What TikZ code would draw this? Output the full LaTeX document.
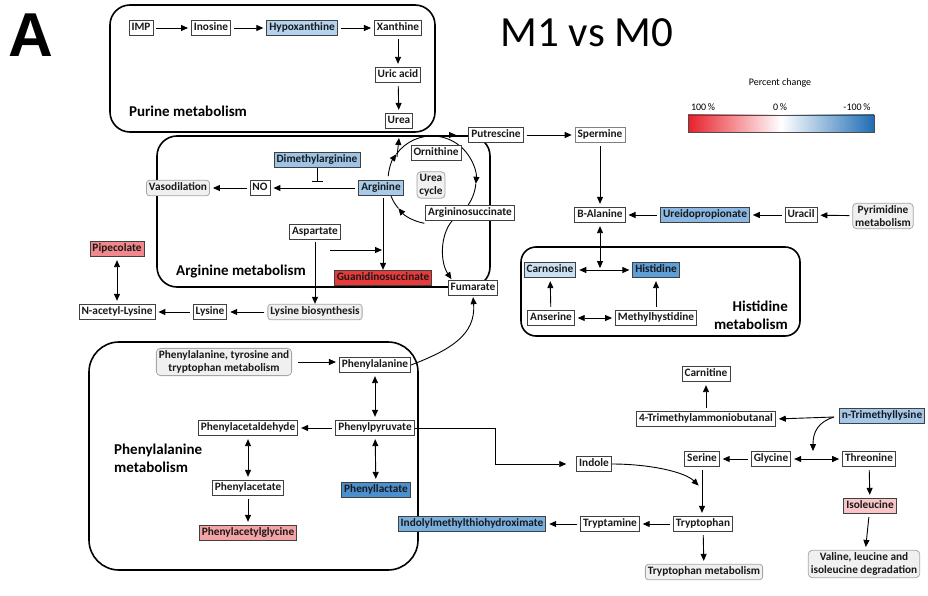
\documentclass[tikz,border=0pt]{standalone}
\usepackage{fontspec}
\setmainfont{Carlito}
\newfontfamily\arialfont{Liberation Sans}
\usetikzlibrary{arrows.meta,backgrounds}
\definecolor{cHyp}{HTML}{B4D3EE}
\definecolor{cDma}{HTML}{9DC3E6}
\definecolor{cArg}{HTML}{A8CBEA}
\definecolor{cUre}{HTML}{8CB8E4}
\definecolor{cCar}{HTML}{C9E1F3}
\definecolor{cHis}{HTML}{5D9FD8}
\definecolor{cPhl}{HTML}{4A90D0}
\definecolor{cImt}{HTML}{7AB0E0}
\definecolor{cTml}{HTML}{A3C8EA}
\definecolor{cGua}{HTML}{E83A3A}
\definecolor{cPip}{HTML}{F0888C}
\definecolor{cPag}{HTML}{F4A3A6}
\definecolor{cIle}{HTML}{F8C6C8}
\definecolor{lRed}{HTML}{E8202A}
\definecolor{lBlue}{HTML}{1F6DB4}
\newcommand\nodefont{\bfseries\fontsize{11.3}{12.5}\selectfont}
\newcommand\labfont{\bfseries\fontsize{15}{18}\selectfont}
\begin{document}
\begin{tikzpicture}[x=1pt,y=-1pt,
  base/.style={line width=0.8pt, font=\nodefont, inner xsep=2.5pt, text=black!90},
  met/.style={base, draw=black!75, fill=white, inner ysep=0pt, minimum height=15.5pt, text height=8pt, text depth=2.4pt},
  grp/.style={met, rounded corners=3pt, draw=black!35, fill=black!6},
  grpm/.style={base, rounded corners=4pt, draw=black!35, fill=black!6, align=center, inner ysep=2.5pt},
  sect/.style={draw=black, line width=1.6pt, rounded corners=#1},
  sect/.default=20pt,
  tip/.style={-{Triangle[length=7pt,width=6pt]}, line width=0.9pt},
  plain/.style={line width=0.9pt},
  arr/.style={tip, shorten >=3pt, shorten <=3pt},
  darr/.style={{Triangle[length=7pt,width=6pt]}-{Triangle[length=7pt,width=6pt]}, line width=0.9pt, shorten >=3pt, shorten <=3pt},
  lbl/.style={font=\labfont, inner sep=0pt}
]
\useasboundingbox (0,0) rectangle (928,596);

% title and legend
\node[font=\arialfont\bfseries\fontsize{62}{62}\selectfont, inner sep=0pt] (A) at (31,35) {A};
\node[font=\fontsize{43}{45}\selectfont, inner sep=0pt] (title) at (587,33) {M1 vs M0};
\node[font=\fontsize{10}{12}\selectfont] (pc) at (780,83) {Percent change};
\node[font=\fontsize{10}{12}\selectfont] (l100) at (703,107) {100\,\%};
\node[font=\fontsize{10}{12}\selectfont] (l0) at (780,107) {0\,\%};
\node[font=\fontsize{10}{12}\selectfont] (lm100) at (857,107) {-100\,\%};
\shade[left color=lRed, right color=lBlue, middle color=white] (688,115) rectangle (874,132);
\draw[black!70, line width=0.8pt] (688,115) rectangle (874,132);

% purine
\node[met] (imp) at (141,28) {IMP};
\node[met] (ino) at (211,28) {Inosine};
\node[met, fill=cHyp] (hyp) at (302,28) {Hypoxanthine};
\node[met] (xan) at (398,28) {Xanthine};
\node[met] (uric) at (398,75) {Uric acid};
\node[met] (urea) at (399,121) {Urea};
\node[lbl] (purlbl) at (188,111) {Purine metabolism};

% arginine
\node[met] (orn) at (436,153) {Ornithine};
\node[grpm] (ucyc) at (431,185) {Urea\\cycle};
\node[met] (asuc) at (470,213) {Argininosuccinate};
\node[met, fill=cArg] (arg) at (381,188) {Arginine};
\node[met, fill=cDma] (dma) at (317,160) {Dimethylarginine};
\node[met] (no) at (260,188) {NO};
\node[grp] (vaso) at (178,188) {Vasodilation};
\node[met] (asp) at (315,232) {Aspartate};
\node[met, fill=cGua] (guan) at (383,278) {Guanidinosuccinate};
\node[met] (fum) at (473,288) {Fumarate};
\node[lbl] (arglbl) at (241,272) {Arginine metabolism};

\node[met] (put) at (496,135) {Putrescine};
\node[met, draw=black!50] (spe) at (600,135) {Spermine};
\node[met] (bala) at (600,215) {B-Alanine};
\node[met, fill=cUre] (ureido) at (705,215) {Ureidopropionate};
\node[met] (uracil) at (801,215) {Uracil};
\node[grpm] (pyr) at (883,216) {Pyrimidine\\metabolism};

% lysine
\node[met, fill=cPip] (pip) at (117,249) {Pipecolate};
\node[met] (nal) at (117,312) {N-acetyl-Lysine};
\node[met] (lys) at (210,312) {Lysine};
\node[grp] (lysb) at (315,312) {Lysine biosynthesis};

% histidine
\node[met, fill=cCar] (carn) at (550,270) {Carnosine};
\node[met, fill=cHis] (his) at (656,270) {Histidine};
\node[met] (ans) at (551,318) {Anserine};
\node[met] (mhis) at (656,318) {Methylhystidine};
\node[lbl, align=right, anchor=east] (hislbl) at (788,315) {Histidine\\metabolism};

% phenylalanine
\node[grpm] (phetyr) at (224,362) {Phenylalanine, tyrosine and\\tryptophan metabolism};
\node[met] (phe) at (375,365) {Phenylalanine};
\node[met] (phpyr) at (375,428) {Phenylpyruvate};
\node[met] (phald) at (248,428) {Phenylacetaldehyde};
\node[met] (phac) at (248,488) {Phenylacetate};
\node[met, fill=cPag] (pag) at (248,533) {Phenylacetylglycine};
\node[met, fill=cPhl] (phlac) at (376,490) {Phenyllactate};
\node[lbl, align=left, anchor=west] (phelbl) at (114,458) {Phenylalanine\\metabolism};

% right lower
\node[met] (indole) at (594,464) {Indole};
\node[met] (carnit) at (706,374) {Carnitine};
\node[met] (tmab) at (706,419) {4-Trimethylammoniobutanal};
\node[met, fill=cTml] (ntml) at (882,416) {n-Trimethyllysine};
\node[met] (ser) at (702,459) {Serine};
\node[met] (gly) at (771,459) {Glycine};
\node[met] (thr) at (869,459) {Threonine};
\node[met, fill=cIle] (ile) at (870,506) {Isoleucine};
\node[grpm] (vli) at (864,564) {Valine, leucine and\\isoleucine degradation};
\node[met] (trp) at (703,524) {Tryptophan};
\node[met] (trpa) at (610,524) {Tryptamine};
\node[met, fill=cImt] (imtx) at (472,524) {Indolylmethylthiohydroximate};
\node[grp] (trpm) at (704,572) {Tryptophan metabolism};

\coordinate (ureaj) at (397,157);
\coordinate (ureatip) at (399,138);
\coordinate (putsrc) at (399,135);
\coordinate (putmid) at (456,135);
\coordinate (aspa) at (330,250);
\coordinate (aspb) at (382,250);
\coordinate (bend) at (495,428);
\coordinate (hisj) at (600,268);
\coordinate (gtj) at (813,451);
\coordinate (ntmlj) at (834,417);
\coordinate (trpj) at (700,487);
\coordinate (inh) at (317,182);
\coordinate (asucb) at (452,221);
\coordinate (fumt) at (452,280);

\begin{scope}[on background layer]
  \draw[sect] (110,5) rectangle (435,132);
  \draw[sect] (157,136) rectangle (490,287);
  \draw[sect=15pt] (521,247) rectangle (800,336);
  \draw[sect=30pt] (89,342) rectangle (418,570);
  % urea cycle
  \draw[tip] (465.7,151.7) arc[start angle=-40, end angle=5, radius=44];
  \draw[plain] (475.8,183.8) arc[start angle=5, end angle=40, radius=44];
  \draw[tip] (424.4,223.3) arc[start angle=100, end angle=140, radius=44];
  \draw[plain] (398.3,208.3) arc[start angle=140, end angle=175, radius=44];
  \draw[tip] (388.2,176.2) arc[start angle=185, end angle=216, radius=44];
  \draw[plain] (396.4,154.1) arc[start angle=216, end angle=320, radius=44];
\end{scope}

% purine arrows
\draw[arr] (imp) -- (ino);
\draw[arr] (ino) -- (hyp);
\draw[arr] (hyp) -- (xan);
\draw[arr] (xan) -- (uric);
\draw[arr] (uric) -- (urea);

% arginine arrows
\draw[tip] (ureaj) -- (ureatip);
\draw[plain] (putsrc) -- (put.west);
\draw[tip] (putsrc) -- (putmid);
\draw[arr] (put) -- (spe);
\draw[arr] (spe) -- (bala);
\draw[arr] (arg) -- (no);
\draw[arr] (no) -- (vaso);
\draw[line width=0.9pt, -{Bar[width=11pt,line width=1.3pt]}] (dma.south) -- (inh);
\draw[tip, shorten <=2pt] (arg.south -| guan.north) -- (guan.north);
\draw[tip] (aspa) -- (aspb);
\draw[tip, shorten <=2pt] (asp.south) -- (lysb.north);
\draw[tip, shorten >=1pt] (asucb) .. controls (440,235) and (440,262) .. (fumt);
\draw[arr] (lysb) -- (lys);
\draw[arr] (lys) -- (nal);
\draw[darr] (pip) -- (nal);

% pyrimidine
\draw[arr] (pyr) -- (uracil);
\draw[arr] (uracil) -- (ureido);
\draw[arr] (ureido) -- (bala);

% histidine
\draw[darr, shorten >=0pt] (bala.south) -- (hisj);
\draw[darr] (carn) -- (his);
\draw[darr] (ans) -- (mhis);
\draw[arr] (ans) -- (carn);
\draw[arr] (mhis) -- (his);

% phenylalanine
\draw[arr, shorten <=6pt] (phetyr.east) -- (phetyr.east -| phe.west);
\draw[darr] (phe) -- (phpyr);
\draw[arr] (phpyr) -- (phald);
\draw[darr] (phald) -- (phac);
\draw[arr] (phac) -- (pag);
\draw[darr] (phpyr) -- (phlac);
\draw[tip, shorten >=1pt] (phe.east) .. controls (450,350) and (476,335) .. (fum.south);
\draw[tip, shorten >=10pt] (phpyr.east) -- (bend) |- (indole.west);

% right lower
\draw[tip, shorten >=2pt] (indole.east) .. controls (650,464) and (685,472) .. (trpj);
\draw[arr] (ser.south) -- (trp.north -| ser.south);
\draw[arr] (gly) -- (ser);
\draw[darr] (gly) -- (thr);
\draw[arr] (tmab) -- (carnit);
\draw[tip, shorten >=3pt] (ntmlj) -- (tmab.east);
\draw[tip] (ntmlj) .. controls (818,422) and (813,432) .. (gtj);
\draw[arr] (thr) -- (ile);
\draw[arr] (ile) -- (vli);
\draw[arr] (trp) -- (trpa);
\draw[arr] (trpa) -- (imtx);
\draw[arr] (trp) -- (trpm);
\end{tikzpicture}
\end{document}
